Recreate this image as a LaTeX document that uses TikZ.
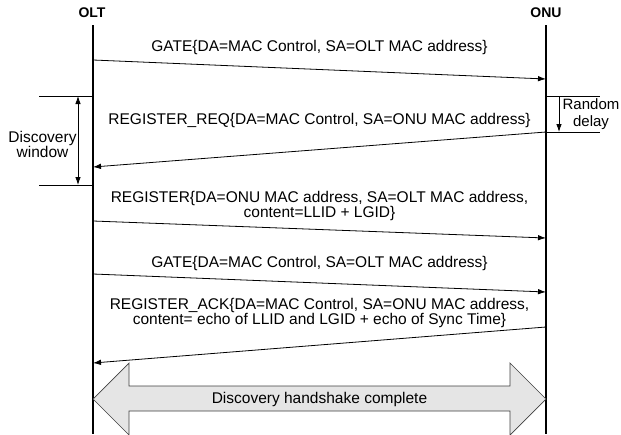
\documentclass[tikz,border=0pt]{standalone}
\usepackage{fontspec}
\setmainfont{Liberation Sans}
\usetikzlibrary{arrows.meta}
\begin{document}
\begin{tikzpicture}[x=1pt,y=-1pt,
  lifeline/.style={line width=1.3pt},
  msg/.style={line width=0.8pt,-{Latex[length=8pt,width=5.5pt]}},
  txt/.style={font=\fontsize{15.5}{15}\selectfont,align=center,inner sep=0pt},
  head/.style={font=\bfseries\fontsize{14}{15}\selectfont,inner sep=0pt},
  tick/.style={line width=0.8pt},
  span/.style={line width=0.8pt,{Latex[length=8pt,width=5.5pt]}-{Latex[length=8pt,width=5.5pt]}},
  bigarrow/.style={draw=black!75,line width=0.7pt,fill=black!10}]
\useasboundingbox (0,0) rectangle (621,434);

% lifelines
\node[head] (olt) at (92,13) {OLT};
\node[head] (onu) at (546,13) {ONU};
\coordinate (oltT) at (93,25);  \coordinate (oltB) at (93,434);
\coordinate (onuT) at (546,25); \coordinate (onuB) at (546,434);
\draw[lifeline] (oltT) -- (oltB);
\draw[lifeline] (onuT) -- (onuB);

% GATE
\coordinate (m1a) at (93,60);  \coordinate (m1b) at (546,79);
\draw[msg] (m1a) -- (m1b);
\node[txt] (t1) at (319.5,47) {GATE\{DA=MAC Control, SA=OLT MAC address\}};

% REGISTER_REQ
\coordinate (m2a) at (546,132); \coordinate (m2b) at (93,167);
\draw[msg] (m2a) -- (m2b);
\node[txt] (t2) at (319.5,120) {REGISTER\_REQ\{DA=MAC Control, SA=ONU MAC address\}};

% discovery window
\coordinate (dw1a) at (39,96);  \coordinate (dw1b) at (93,96);
\coordinate (dw2a) at (39,185); \coordinate (dw2b) at (93,185);
\draw[tick] (dw1a) -- (dw1b);
\draw[tick] (dw2a) -- (dw2b);
\coordinate (dwt) at (78,96); \coordinate (dwb) at (78,185);
\draw[span] (dwt) -- (dwb);
\node[txt] (dwl) at (42.5,144) {Discovery\\window};

% random delay
\coordinate (rd1a) at (546,96);  \coordinate (rd1b) at (600,96);
\coordinate (rd2a) at (546,132); \coordinate (rd2b) at (600,132);
\draw[tick] (rd1a) -- (rd1b);
\draw[tick] (rd2a) -- (rd2b);
\coordinate (rdt) at (559,96); \coordinate (rdb) at (559,132);
\draw[msg] (rdt) -- (rdb);
\node[txt,font=\fontsize{15}{17}\selectfont] (rdl) at (591,114) {Random\\delay};

% REGISTER
\coordinate (m3a) at (93,221); \coordinate (m3b) at (546,238);
\draw[msg] (m3a) -- (m3b);
\node[txt] (t3) at (319.5,206) {REGISTER\{DA=ONU MAC address, SA=OLT MAC address,\\content=LLID + LGID\}};

% GATE
\coordinate (m4a) at (93,274); \coordinate (m4b) at (546,292);
\draw[msg] (m4a) -- (m4b);
\node[txt] (t4) at (319.5,263) {GATE\{DA=MAC Control, SA=OLT MAC address\}};

% REGISTER_ACK
\coordinate (m5a) at (546,327); \coordinate (m5b) at (93,363);
\draw[msg] (m5a) -- (m5b);
\node[txt] (t5) at (319.5,313) {REGISTER\_ACK\{DA=MAC Control, SA=ONU MAC address,\\content= echo of LLID and LGID + echo of Sync Time\}};

% handshake complete
\draw[bigarrow] (93,399) -- (129,363) -- (129,386) -- (510,386) -- (510,363)
  -- (546,399) -- (510,435) -- (510,411) -- (129,411) -- (129,435) -- cycle;
\node[txt] (hs) at (319.5,399) {Discovery handshake complete};
\end{tikzpicture}
\end{document}
